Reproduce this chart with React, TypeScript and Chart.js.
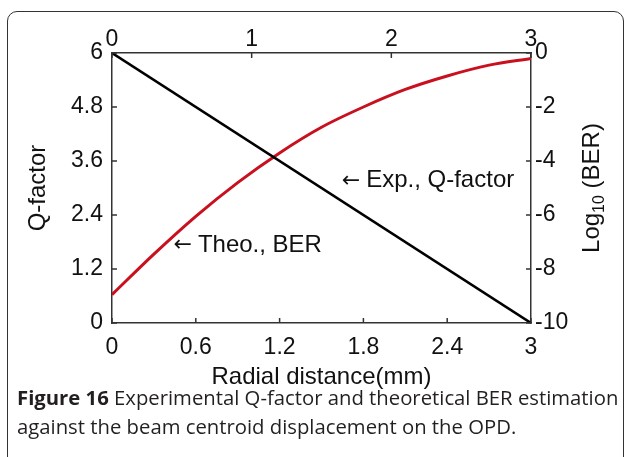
import React, { useEffect, useRef } from "react";
import { Chart, registerables } from "chart.js";

Chart.register(...registerables);

// ---- data ----
const expX = [0, 3];
const expQ = [6, 0];
const theoX = [0, 0.3, 0.6, 0.9, 1.2, 1.5, 1.8, 2.1, 2.4, 2.7, 3.0];
const theoLogBER = [-8.95, -7.45, -6.05, -4.8, -3.7, -2.75, -2.0, -1.35, -0.85, -0.45, -0.2];
const bottomTicks = [0, 0.6, 1.2, 1.8, 2.4, 3];
const topTicks = [0, 1, 2, 3];
const leftTicks = [0, 1.2, 2.4, 3.6, 4.8, 6];
const rightTicks = [-10, -8, -6, -4, -2, 0];

const FONT = "'Liberation Sans', Arial, sans-serif";
const TXT = "#111";

function arrowLabel(ctx: any, text: string, x: number, y: number) {
  ctx.font = `22px 'DejaVu Sans', sans-serif`;
  ctx.fillText("\u2190", x, y);
  const aw = ctx.measureText("\u2190").width;
  ctx.font = `24px ${FONT}`;
  ctx.fillText(text, x + aw + 6, y);
}

const inwardTicks = {
  id: "inwardTicks",
  afterDraw(chart: any) {
    const ctx = chart.ctx;
    const ca = chart.chartArea;
    const L = 5;
    ctx.save();
    ctx.strokeStyle = "#333";
    ctx.lineWidth = 1.5;
    const sx = chart.scales.x, sx2 = chart.scales.x2, sy = chart.scales.y, sy2 = chart.scales.y2;
    ctx.beginPath();
    bottomTicks.forEach((v) => {
      const p = sx.getPixelForValue(v);
      ctx.moveTo(p, ca.bottom);
      ctx.lineTo(p, ca.bottom - L);
    });
    topTicks.forEach((v) => {
      const p = sx2.getPixelForValue(v);
      ctx.moveTo(p, ca.top);
      ctx.lineTo(p, ca.top + L);
    });
    leftTicks.forEach((v) => {
      const p = sy.getPixelForValue(v);
      ctx.moveTo(ca.left, p);
      ctx.lineTo(ca.left + L, p);
    });
    rightTicks.forEach((v) => {
      const p = sy2.getPixelForValue(v);
      ctx.moveTo(ca.right, p);
      ctx.lineTo(ca.right - L, p);
    });
    ctx.stroke();

    // titles and annotations
    ctx.fillStyle = TXT;
    ctx.font = `24px ${FONT}`;
    ctx.textBaseline = "middle";
    ctx.textAlign = "center";
    ctx.fillText("Radial distance(mm)", (ca.left + ca.right) / 2, ca.bottom + 54);

    ctx.save();
    ctx.translate(ca.left - 74, (ca.top + ca.bottom) / 2);
    ctx.rotate(-Math.PI / 2);
    ctx.fillText("Q-factor", 0, 0);
    ctx.restore();

    ctx.save();
    ctx.translate(ca.right + 61, (ca.top + ca.bottom) / 2);
    ctx.rotate(-Math.PI / 2);
    ctx.textAlign = "left";
    const w1 = ctx.measureText("Log").width;
    ctx.font = `16px ${FONT}`;
    const w2 = ctx.measureText("10").width;
    ctx.font = `24px ${FONT}`;
    const w3 = ctx.measureText(" (BER)").width;
    const total = w1 + w2 + w3;
    const x0 = -total / 2;
    ctx.fillText("Log", x0, 0);
    ctx.font = `16px ${FONT}`;
    ctx.fillText("10", x0 + w1, 8);
    ctx.font = `24px ${FONT}`;
    ctx.fillText(" (BER)", x0 + w1 + w2, 0);
    ctx.restore();

    ctx.textAlign = "left";
    arrowLabel(ctx, "Theo., BER", sx.getPixelForValue(0.44), sy.getPixelForValue(1.73));
    arrowLabel(ctx, "Exp., Q-factor", sx.getPixelForValue(1.645), sy.getPixelForValue(3.16));
    ctx.restore();
  },
};

const fmt = (v: any) => String(+Number(v).toFixed(1));

export default function App() {
  const ref = useRef<HTMLCanvasElement>(null);
  useEffect(() => {
    if (!ref.current) return;
    const tickFont = { family: FONT, size: 23 };
    const chart = new Chart(ref.current, {
      type: "line",
      data: {
        datasets: [
          {
            label: "Exp., Q-factor",
            data: expX.map((x, i) => ({ x, y: expQ[i] })),
            xAxisID: "x",
            yAxisID: "y",
            borderColor: "#000",
            borderWidth: 2.6,
            pointRadius: 0,
          },
          {
            label: "Theo., BER",
            data: theoX.map((x, i) => ({ x, y: theoLogBER[i] })),
            xAxisID: "x",
            yAxisID: "y2",
            borderColor: "rgb(200,16,30)",
            borderWidth: 3,
            pointRadius: 0,
            cubicInterpolationMode: "monotone",
          },
        ],
      },
      options: {
        responsive: false,
        animation: false,
        devicePixelRatio: 1,
        layout: { padding: 0 },
        plugins: { legend: { display: false }, tooltip: { enabled: false } },
        scales: {
          x: {
            type: "linear",
            position: "bottom",
            min: 0,
            max: 3,
            afterBuildTicks: (s: any) => { s.ticks = bottomTicks.map((v) => ({ value: v })); },
            ticks: { font: tickFont, color: TXT, padding: 3, callback: fmt, maxRotation: 0, autoSkip: false },
            grid: { display: false },
            border: { display: true, color: "#333", width: 1.5 },
            afterFit: (s: any) => { s.height = 134; },
          },
          x2: {
            type: "linear",
            position: "top",
            min: 0,
            max: 3,
            afterBuildTicks: (s: any) => { s.ticks = topTicks.map((v) => ({ value: v })); },
            ticks: { font: tickFont, color: TXT, padding: -8, callback: fmt, maxRotation: 0, autoSkip: false },
            grid: { display: false },
            border: { display: true, color: "#333", width: 1.5 },
            afterFit: (s: any) => { s.height = 53; },
          },
          y: {
            type: "linear",
            position: "left",
            min: 0,
            max: 6,
            afterBuildTicks: (s: any) => { s.ticks = leftTicks.map((v) => ({ value: v })); },
            ticks: { font: tickFont, color: TXT, padding: 1, callback: fmt, autoSkip: false },
            grid: { display: false },
            border: { display: true, color: "#333", width: 1.5 },
            afterFit: (s: any) => { s.width = 112; },
          },
          y2: {
            type: "linear",
            position: "right",
            min: -10,
            max: 0,
            afterBuildTicks: (s: any) => { s.ticks = rightTicks.map((v) => ({ value: v })); },
            ticks: { font: tickFont, color: TXT, padding: -4, callback: fmt, autoSkip: false },
            grid: { display: false },
            border: { display: true, color: "#333", width: 1.5 },
            afterFit: (s: any) => { s.width = 96; },
          },
        },
      },
      plugins: [inwardTicks],
    } as any);
    return () => chart.destroy();
  }, []);

  return (
    <div style={{ position: "absolute", left: 0, top: 0, width: 627, height: 457, overflow: "hidden", background: "#fff" }}>
      <div
        style={{
          position: "absolute",
          left: 7,
          top: 11,
          width: 617,
          height: 470,
          border: "1.5px solid #333",
          borderRadius: 10,
          boxSizing: "border-box",
        }}
      />
      <canvas ref={ref} width={627} height={457} style={{ position: "absolute", left: 0, top: 0 }} />
      <div
        style={{
          position: "absolute",
          left: 17,
          top: 383,
          width: 620,
          fontFamily: "'Open Sans', 'Noto Sans', sans-serif",
          fontSize: 20.3,
          lineHeight: "29px",
          color: "#231f20",
          whiteSpace: "nowrap",
        }}
      >
        <div>
          <b>Figure 16</b> Experimental Q-factor and theoretical BER estimation
        </div>
        <div>against the beam centroid displacement on the OPD.</div>
      </div>
    </div>
  );
}
